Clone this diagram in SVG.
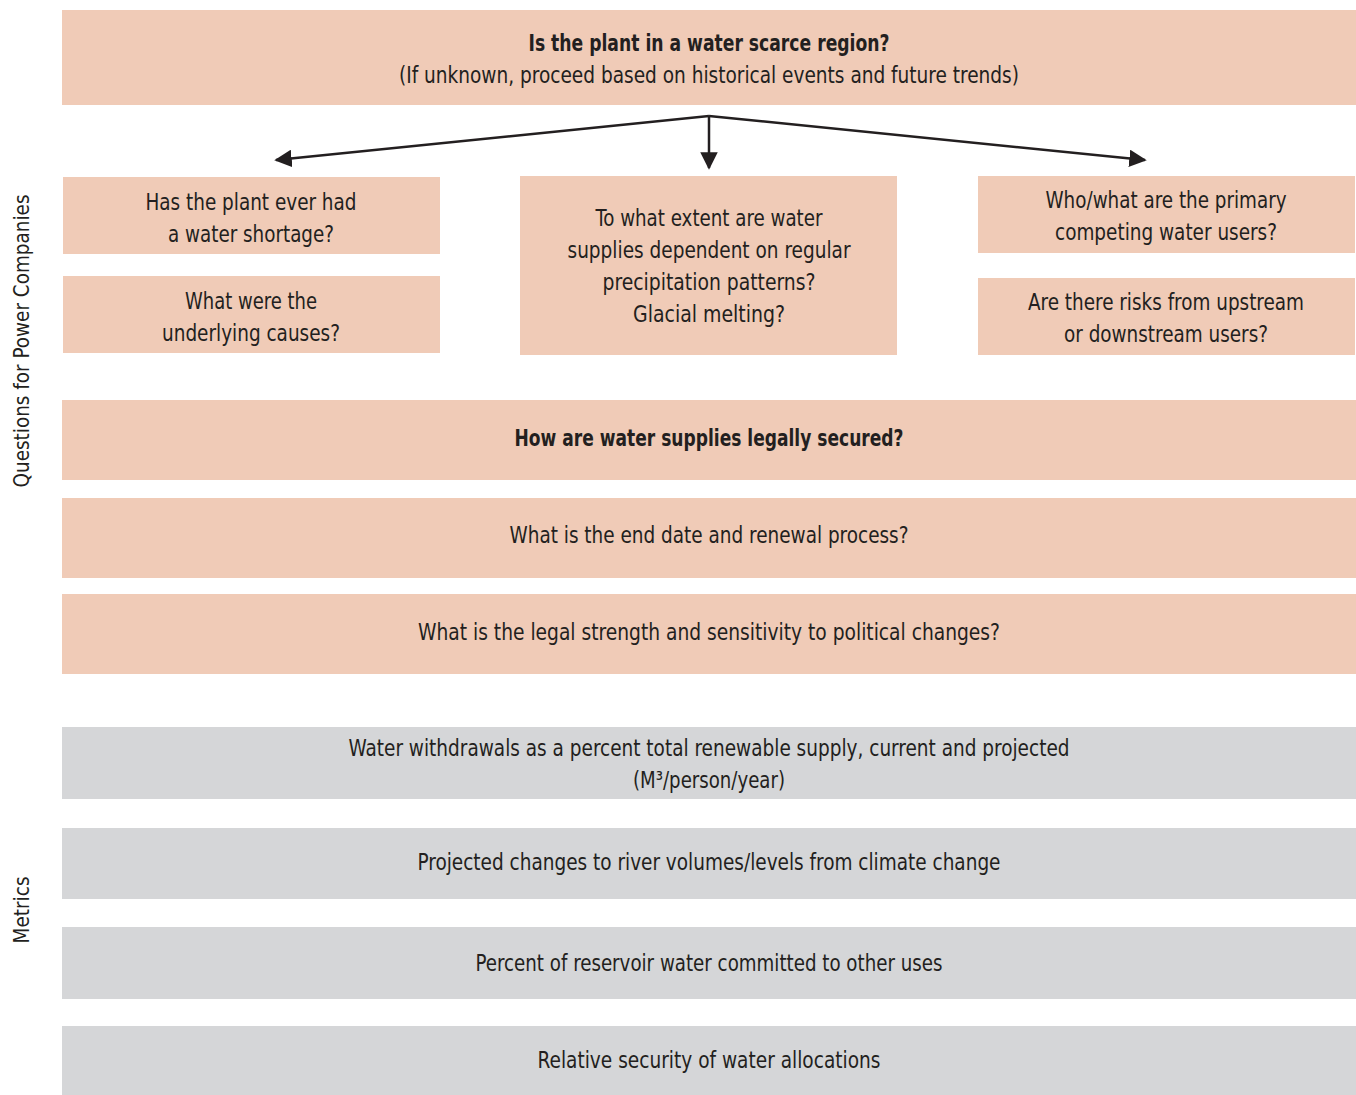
<svg xmlns="http://www.w3.org/2000/svg" width="1356" height="1095" viewBox="0 0 1356 1095">
  <style>
    .q { fill: #f0cbb7; }
    .m { fill: #d5d6d8; }
    text { font-family: "DejaVu Sans Condensed", "Liberation Sans", sans-serif; font-size: 23px; fill: #231f20; text-anchor: middle; }
    .b { font-weight: bold; }
    .side { font-size: 22px; }
    .conn { stroke: #231f20; stroke-width: 2.5; fill: none; }
  </style>
  <defs>
    <marker id="arrow" viewBox="0 0 10 10" refX="9" refY="5" markerWidth="7" markerHeight="7" markerUnits="strokeWidth" orient="auto">
      <path d="M0,0 L10,5 L0,10 z" fill="#231f20"/>
    </marker>
  </defs>
  <rect width="1356" height="1095" fill="#ffffff"/>

  <!-- section labels -->
  <text class="side" transform="translate(29,341) rotate(-90)" textLength="293" lengthAdjust="spacingAndGlyphs">Questions for Power Companies</text>
  <text class="side" transform="translate(29,910) rotate(-90)" textLength="67" lengthAdjust="spacingAndGlyphs">Metrics</text>

  <!-- question nodes -->
  <g id="scarce">
    <rect class="q" x="62" y="10" width="1294" height="95"/>
    <text class="b" x="709" y="51" textLength="361" lengthAdjust="spacingAndGlyphs">Is the plant in a water scarce region?</text>
    <text x="709" y="83" textLength="620" lengthAdjust="spacingAndGlyphs">(If unknown, proceed based on historical events and future trends)</text>
  </g>
  <g id="shortage">
    <rect class="q" x="63" y="177" width="377" height="77"/>
    <text x="251" y="210" textLength="211" lengthAdjust="spacingAndGlyphs">Has the plant ever had</text>
    <text x="251" y="242" textLength="166" lengthAdjust="spacingAndGlyphs">a water shortage?</text>
  </g>
  <g id="causes">
    <rect class="q" x="63" y="276" width="377" height="77"/>
    <text x="251" y="309" textLength="132" lengthAdjust="spacingAndGlyphs">What were the</text>
    <text x="251" y="341" textLength="178" lengthAdjust="spacingAndGlyphs">underlying causes?</text>
  </g>
  <g id="precipitation">
    <rect class="q" x="520" y="176" width="377" height="179"/>
    <text x="709" y="226" textLength="227" lengthAdjust="spacingAndGlyphs">To what extent are water</text>
    <text x="709" y="258" textLength="283" lengthAdjust="spacingAndGlyphs">supplies dependent on regular</text>
    <text x="709" y="290" textLength="213" lengthAdjust="spacingAndGlyphs">precipitation patterns?</text>
    <text x="709" y="322" textLength="152" lengthAdjust="spacingAndGlyphs">Glacial melting?</text>
  </g>
  <g id="competing">
    <rect class="q" x="978" y="176" width="377" height="77"/>
    <text x="1166" y="208" textLength="241" lengthAdjust="spacingAndGlyphs">Who/what are the primary</text>
    <text x="1166" y="240" textLength="222" lengthAdjust="spacingAndGlyphs">competing water users?</text>
  </g>
  <g id="upstream">
    <rect class="q" x="978" y="278" width="377" height="77"/>
    <text x="1166" y="310" textLength="276" lengthAdjust="spacingAndGlyphs">Are there risks from upstream</text>
    <text x="1166" y="342" textLength="204" lengthAdjust="spacingAndGlyphs">or downstream users?</text>
  </g>
  <g id="legal">
    <rect class="q" x="62" y="400" width="1294" height="80"/>
    <text class="b" x="709" y="446" textLength="389" lengthAdjust="spacingAndGlyphs">How are water supplies legally secured?</text>
  </g>
  <g id="renewal">
    <rect class="q" x="62" y="498" width="1294" height="80"/>
    <text x="709" y="543" textLength="399" lengthAdjust="spacingAndGlyphs">What is the end date and renewal process?</text>
  </g>
  <g id="strength">
    <rect class="q" x="62" y="594" width="1294" height="80"/>
    <text x="709" y="640" textLength="582" lengthAdjust="spacingAndGlyphs">What is the legal strength and sensitivity to political changes?</text>
  </g>

  <!-- metric nodes -->
  <g id="withdrawals">
    <rect class="m" x="62" y="727" width="1294" height="72"/>
    <text x="709" y="756" textLength="721" lengthAdjust="spacingAndGlyphs">Water withdrawals as a percent total renewable supply, current and projected</text>
    <text x="709" y="788" textLength="152" lengthAdjust="spacingAndGlyphs">(M³/person/year)</text>
  </g>
  <g id="river">
    <rect class="m" x="62" y="828" width="1294" height="71"/>
    <text x="709" y="870" textLength="583" lengthAdjust="spacingAndGlyphs">Projected changes to river volumes/levels from climate change</text>
  </g>
  <g id="reservoir">
    <rect class="m" x="62" y="927" width="1294" height="72"/>
    <text x="709" y="971" textLength="467" lengthAdjust="spacingAndGlyphs">Percent of reservoir water committed to other uses</text>
  </g>
  <g id="allocations">
    <rect class="m" x="62" y="1026" width="1294" height="69"/>
    <text x="709" y="1068" textLength="343" lengthAdjust="spacingAndGlyphs">Relative security of water allocations</text>
  </g>

  <!-- connectors: three branches fanning out from one point below the top question -->
  <g id="connectors">
    <path class="conn" d="M709,116 L276,160" marker-end="url(#arrow)"/>
    <path class="conn" d="M709,116 L709,168" marker-end="url(#arrow)"/>
    <path class="conn" d="M709,116 L1145,160" marker-end="url(#arrow)"/>
  </g>
</svg>
